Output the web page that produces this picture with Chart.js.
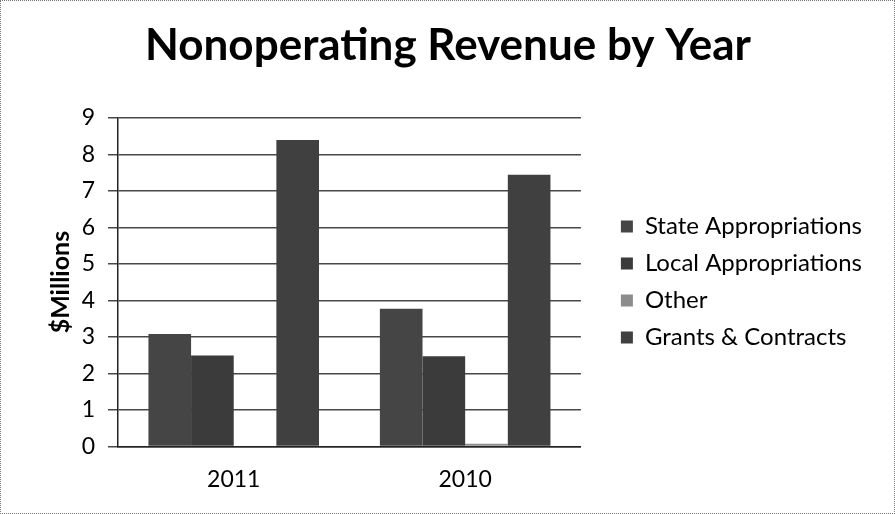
<!DOCTYPE html>
<html>
<head>
<meta charset="utf-8">
<script src="https://cdn.jsdelivr.net/npm/chart.js@4"></script>
<style>
  html, body { margin: 0; padding: 0; background: #fff; }
  #wrap { width: 893px; height: 512px; border: 1px dotted #777; position: relative; }
</style>
</head>
<body>
<div id="wrap"><canvas id="chart"></canvas></div>
<script>
// data ($ millions)
const years = ['2011', '2010'];
const stateApprop = [3.08, 3.77];
const localApprop = [2.49, 2.47];
const other = [0, 0.07];
const grantsContracts = [8.39, 7.44];
const yTicks = [0, 1, 2, 3, 4, 5, 6, 7, 8, 9];

const FONT = 'Lato, "Open Sans", sans-serif';

function series(label, data, color) {
    return {
        label: label,
        data: data,
        backgroundColor: color,
        borderWidth: 0,
        barPercentage: 1.0,
        categoryPercentage: 0.737
    };
}

function createChart() {
    const ctx = document.getElementById('chart').getContext('2d');
    return new Chart(ctx, {
        type: 'bar',
        data: {
            labels: years,
            datasets: [
                series('State Appropriations', stateApprop, '#454545'),
                series('Local Appropriations', localApprop, '#3b3b3b'),
                series('Other', other, '#8c8c8c'),
                series('Grants & Contracts', grantsContracts, '#404040')
            ]
        },
        options: {
            responsive: true,
            maintainAspectRatio: false,
            animation: false,
            layout: { padding: { left: 23, right: 22, top: 0, bottom: 9 } },
            plugins: {
                title: {
                    display: true,
                    text: 'Nonoperating Revenue by Year',
                    color: '#000',
                    font: { family: FONT, size: 44, weight: 'bold' },
                    padding: { top: 18, bottom: 46 }
                },
                legend: {
                    position: 'right',
                    fullSize: false,
                    maxWidth: 320,
                    labels: {
                        color: '#000',
                        font: { family: FONT, size: 24 },
                        boxWidth: 12,
                        boxHeight: 12,
                        padding: 13
                    }
                },
                tooltip: { enabled: false }
            },
            scales: {
                y: {
                    min: 0,
                    max: 9,
                    afterBuildTicks: axis => { axis.ticks = yTicks.map(v => ({ value: v })); },
                    afterFit: axis => { axis.width = 94; },
                    title: {
                        display: true,
                        text: '$Millions',
                        color: '#000',
                        font: { family: FONT, size: 25, weight: 'bold' },
                        padding: { top: 22, bottom: 0 }
                    },
                    ticks: {
                        color: '#000',
                        font: { family: FONT, size: 23 },
                        padding: 13
                    },
                    grid: { color: '#484848', lineWidth: 1.5, tickLength: 10 },
                    border: { color: '#222', width: 1.5 }
                },
                // spacer between plot and legend
                gap: {
                    type: 'linear',
                    position: 'right',
                    display: true,
                    grid: { display: false, drawTicks: false },
                    ticks: { display: false },
                    border: { display: false },
                    afterFit: axis => { axis.width = 27; }
                },
                x: {
                    ticks: {
                        color: '#000',
                        font: { family: FONT, size: 23 },
                        padding: 11
                    },
                    grid: { display: false },
                    border: { color: '#222', width: 1.5 }
                }
            }
        }
    });
}

Promise.all([
    document.fonts.load('bold 44px Lato'),
    document.fonts.load('24px Lato')
]).catch(() => {}).then(() => { window.chart = createChart(); });
</script>
</body>
</html>
